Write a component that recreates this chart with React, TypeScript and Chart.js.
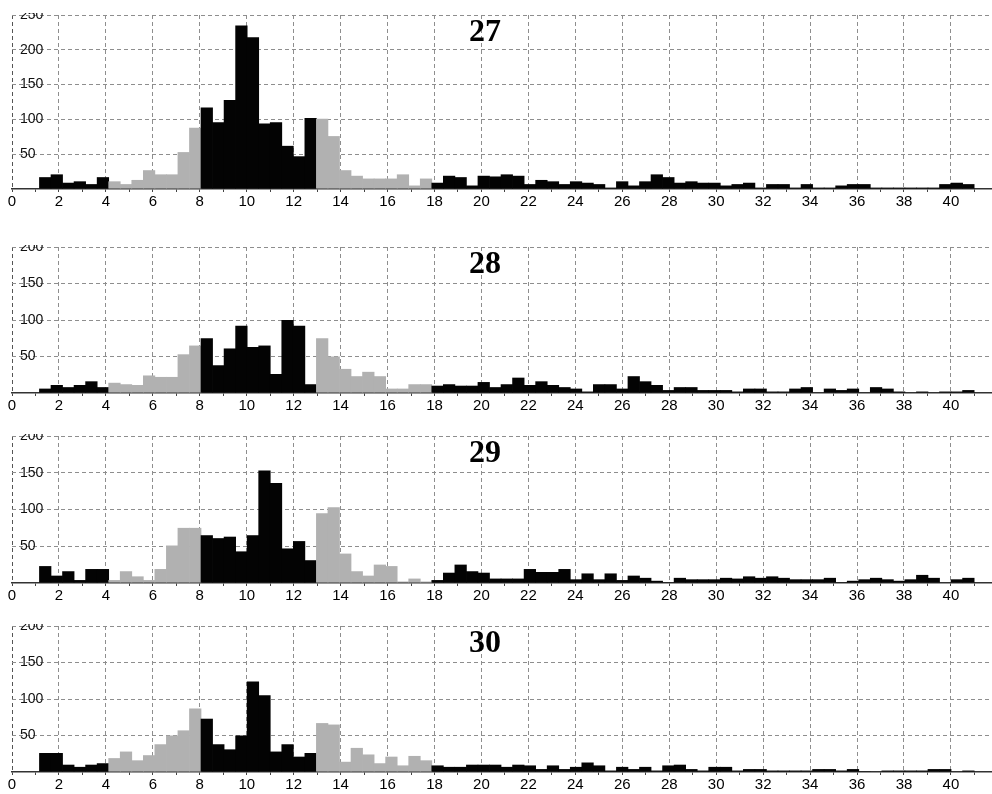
import React, { useEffect, useRef } from 'react';
import { Chart, registerables } from 'chart.js';

Chart.register(...registerables);

// ---- data ----
const BIN_START = 1.17;
const BIN_WIDTH = 0.4916;
const X_MAX = 41.75;
const GRAY_RANGES: [number, number][] = [[4, 8], [13, 18]];
const TITLES = ['27', '28', '29', '30'];
const Y_MAXES = [250, 200, 200, 200];

const values27 = [
  17, 21, 9, 11, 7, 17,
  11, 7, 13, 27, 21, 21, 53, 88,
  117, 96, 128, 235, 218, 94, 96, 62, 47, 102,
  101, 76, 27, 19, 15, 15, 15, 21, 5, 15,
  9, 19, 17, 5, 19,
  18, 21, 19, 7, 13, 11, 7, 11, 9, 7, 2, 11, 5, 11, 21, 17, 9, 11, 9, 9, 5,
  7, 9, 2, 7, 7, 2, 7, 2, 2, 5, 7, 7, 2, 2, 2, 2, 2, 2, 7, 9, 7,
];
const values28 = [
  6, 11, 8, 11, 16, 8,
  14, 12, 11, 24, 22, 22, 53, 65,
  75, 38, 61, 92, 63, 65, 26, 100, 92, 12,
  75, 50, 33, 23, 29, 23, 6, 6, 12, 12,
  10, 12, 10, 10, 15,
  8, 12, 21, 11, 16, 11, 8, 6, 2, 12, 12, 6, 23, 16, 11, 4, 8, 8, 4, 4, 4,
  2, 6, 6, 2, 2, 6, 8, 0, 6, 4, 6, 0, 8, 6, 2, 0, 2, 0, 2, 2, 4,
];
const values29 = [
  23, 10, 16, 4, 19, 19,
  4, 16, 9, 4, 19, 51, 75, 75,
  65, 61, 63, 43, 65, 153, 136, 47, 57, 31,
  95, 103, 40, 16, 10, 25, 23, 2, 6, 2,
  4, 14, 25, 16, 14,
  6, 6, 6, 19, 15, 15, 19, 5, 13, 5, 13, 4, 10, 7, 3, 1, 7, 5, 5, 5, 7,
  6, 9, 7, 9, 7, 5, 5, 5, 7, 1, 3, 5, 7, 5, 3, 5, 11, 7, 0, 5, 7,
];
const values30 = [
  26, 26, 10, 7, 10, 12,
  19, 28, 16, 23, 38, 50, 57, 87,
  73, 38, 31, 50, 124, 105, 28, 38, 21, 26,
  67, 65, 14, 33, 24, 12, 21, 9, 22, 16,
  9, 7, 7, 10, 10,
  10, 7, 10, 9, 4, 9, 4, 7, 13, 9, 2, 7, 4, 7, 2, 9, 10, 4, 2, 7, 7,
  2, 4, 4, 2, 2, 2, 2, 4, 4, 2, 4, 1, 0, 2, 2, 2, 2, 4, 4, 0, 2,
];
const SERIES = [values27, values28, values29, values30];

// ---- styles / layout ----
const BLACK = '#030303';
const GRAY = '#b1b1b1';
const GRID = '#8e8e8e';
const FONT = '"Liberation Sans", Arial, sans-serif';
const PANEL_AREAS: [number, number][] = [[15, 189], [247, 393], [436, 583], [626, 772]];
const X_AXIS_H = 22;
const PAD_TOP = 2;

const BIN_CENTERS = Array.from({ length: 81 }, (_, i) => BIN_START + BIN_WIDTH * (i + 0.5));
const isGray = (x: number) => GRAY_RANGES.some(([a, b]) => x >= a && x < b);

function Panel({ title, values, yMax, areaTop, areaBottom }: { title: string; values: number[]; yMax: number; areaTop: number; areaBottom: number }) {
  const ref = useRef<HTMLCanvasElement>(null);
  const height = areaBottom - areaTop + PAD_TOP + X_AXIS_H;
  useEffect(() => {
    const canvas = ref.current!;
    const titlePlugin = {
      id: 'panelTitle',
      afterDraw(chart: any) {
        const ctx = chart.ctx;
        ctx.save();
        ctx.font = 'bold 32px "Liberation Serif", "Times New Roman", serif';
        ctx.fillStyle = '#000';
        ctx.textAlign = 'center';
        ctx.textBaseline = 'middle';
        ctx.fillText(title, 485, chart.chartArea.top + 18);
        ctx.restore();
      },
    };
    const zeroPad = (s: any) => {
      s.paddingTop = 0;
      s.paddingBottom = 0;
      s.paddingLeft = 0;
      s.paddingRight = 0;
    };
    const chart = new Chart(canvas, {
      type: 'bar',
      data: {
        datasets: [
          {
            data: values.map((v, i) => ({ x: BIN_CENTERS[i], y: v })),
            backgroundColor: values.map((_, i) => (isGray(BIN_CENTERS[i]) ? GRAY : BLACK)),
            borderWidth: 0,
            barPercentage: 1.06,
            categoryPercentage: 1,
          } as any,
        ],
      },
      options: {
        responsive: false,
        animation: false,
        devicePixelRatio: 1,
        layout: { padding: { top: PAD_TOP, left: 0, right: 0, bottom: 0 } },
        plugins: { legend: { display: false }, tooltip: { enabled: false }, title: { display: false } },
        scales: {
          x: {
            type: 'linear',
            min: 0,
            max: X_MAX,
            offset: false,
            afterFit: (s: any) => { s.height = X_AXIS_H; zeroPad(s); },
            grid: {
              offset: false,
              lineWidth: 1,
              tickLength: 3,
              color: (c: any) => (c.tick.value === 0 ? '#555' : c.tick.value % 2 === 0 ? GRID : 'rgba(0,0,0,0)'),
              tickColor: '#444',
            },
            border: { display: true, color: '#333', width: 1.5, dash: [4, 3] },
            ticks: {
              stepSize: 1,
              autoSkip: false,
              maxRotation: 0,
              includeBounds: false,
              padding: 1,
              color: '#000',
              font: { family: FONT, size: 15 },
              callback: (v: any) => (Number.isInteger(v) && v % 2 === 0 ? String(v) : ''),
            },
          },
          y: {
            type: 'linear',
            min: 0,
            max: yMax,
            afterFit: (s: any) => { s.width = 12; zeroPad(s); },
            grid: { color: (c: any) => (c.tick.value === 0 ? 'rgba(0,0,0,0)' : GRID), drawTicks: false, lineWidth: 1 },
            border: { display: false, dash: [4, 3] },
            ticks: {
              stepSize: 50,
              mirror: true,
              padding: 8,
              color: '#111',
              font: { family: FONT, size: 14 },
              callback: (v: any) => (v === 0 ? '' : String(v)),
            },
          },
        },
      } as any,
      plugins: [titlePlugin],
    });
    return () => chart.destroy();
  }, [title, values, yMax, areaTop, areaBottom]);
  return (
    <canvas
      ref={ref}
      width={992}
      height={height}
      style={{ position: 'absolute', left: 0, top: areaTop - PAD_TOP, width: 992, height }}
    />
  );
}

export default function App() {
  return (
    <div style={{ position: 'absolute', left: 0, top: 0, width: 992, height: 794, background: '#fff', overflow: 'hidden' }}>
      {TITLES.map((t, i) => (
        <Panel key={t} title={t} values={SERIES[i]} yMax={Y_MAXES[i]} areaTop={PANEL_AREAS[i][0]} areaBottom={PANEL_AREAS[i][1]} />
      ))}
    </div>
  );
}
